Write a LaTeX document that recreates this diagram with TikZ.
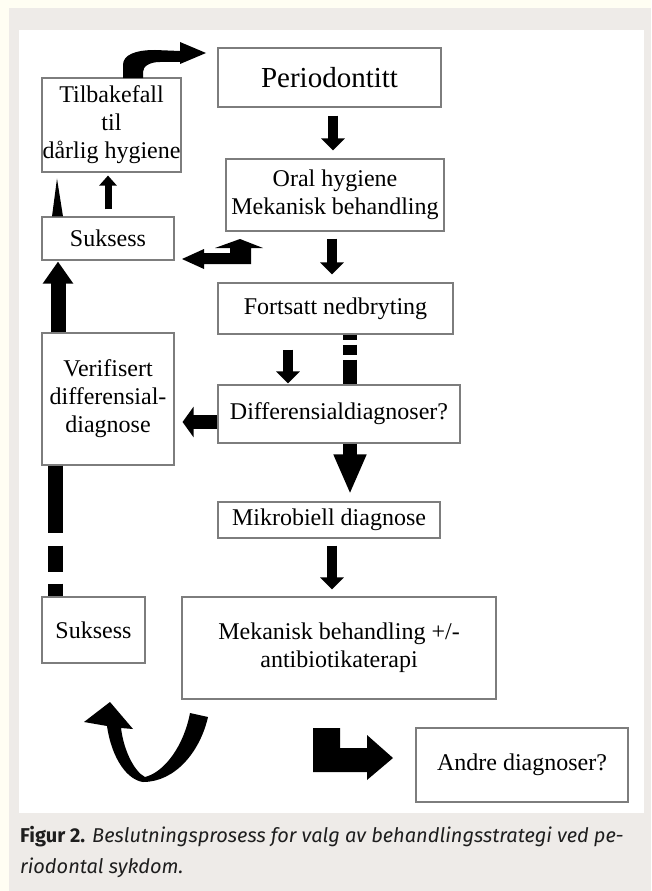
\documentclass[tikz,border=0pt]{standalone}
\usepackage{fontspec}
\setmainfont{Liberation Serif}
\newfontfamily\capfont{Fira Sans}
\usetikzlibrary{arrows.meta}
\definecolor{creamBg}{RGB}{255,254,243}
\definecolor{panelGray}{RGB}{238,235,232}
\definecolor{edgeGray}{RGB}{125,125,125}
\definecolor{capInk}{RGB}{30,30,30}

\begin{document}
\begin{tikzpicture}[x=1pt, y=-1pt,
  box/.style={draw=edgeGray, line width=1.1pt, fill=white, inner sep=0pt,
    align=center, font=\fontsize{24}{28}\selectfont},
  blk/.style={line width=10pt, -{Triangle[width=23pt,length=12pt]}},
  fatarrow/.style={line width=14pt, -{Triangle[width=30pt,length=#1]}},
  caption/.style={anchor=base west, inner sep=0pt, text=capInk, font=\capfont\fontsize{20}{28}\selectfont}]
  % background and panel
  \useasboundingbox (0,0) rectangle (651,891);
  \fill[creamBg] (0,0) rectangle (651,891);
  \fill[panelGray] (9,8) rectangle (651,891);
  \fill[white] (19,30) rectangle (644,813);

  % boxes
  \node[box, minimum width=223, minimum height=59, font=\fontsize{29}{34}\selectfont] (perio) at (329.5,77.5) {Periodontitt};
  \node[box, minimum width=218, minimum height=72] (oral) at (335,195) {Oral hygiene\\Mekanisk behandling};
  \node[box, minimum width=235, minimum height=51] (fort) at (335.5,308.5) {Fortsatt nedbryting};
  \node[box, minimum width=242, minimum height=58] (diff) at (339,414) {Differensialdiagnoser?};
  \node[box, minimum width=222, minimum height=36] (mikro) at (329,520) {Mikrobiell diagnose};
  \node[box, minimum width=314, minimum height=102] (mekab) at (339,648) {Mekanisk behandling +/-\\antibiotikaterapi};
  \node[box, minimum width=212, minimum height=74] (andre) at (522,765) {Andre diagnoser?};
  \node[box, minimum width=139, minimum height=94] (tilb) at (111.5,125) {Tilbakefall\\til\\dårlig hygiene};
  \node[box, minimum width=132, minimum height=43] (suk1) at (108,238.5) {Suksess};
  \node[box, minimum width=132, minimum height=132] (verif) at (108,399) {Verifisert\\differensial-\\diagnose};
  \node[box, minimum width=103, minimum height=66] (suk2) at (93.5,630) {Suksess};

  % straight arrows
  \draw[blk, shorten <=8pt, shorten >=8pt] ([xshift=3.5]perio.south) -- ([xshift=-2]oral.north);
  \draw[blk, shorten <=7pt, shorten >=8pt] ([xshift=-3]oral.south) -- ([xshift=-3.5]fort.north);
  \draw[blk, shorten <=15pt, shorten >=1pt] ([xshift=-47.5]fort.south) -- ([xshift=-51]diff.north);
  \draw[blk, shorten <=7pt, shorten >=7pt] ([xshift=3]mikro.south) -- ([xshift=-7]mekab.north);
  \draw[line width=14pt, dash pattern=on 5pt off 5pt on 10pt off 5pt on 40pt] ([xshift=14.5]fort.south) -- ([xshift=11]diff.north);
  \draw[fatarrow=40pt, shorten >=7pt] ([xshift=11]diff.south) -- ([xshift=21]mikro.north);
  \draw[fatarrow=11pt, shorten >=8pt] ([yshift=-8]diff.west) -- ([yshift=-23]verif.east);
  \draw[line width=15pt, dash pattern=on 67pt off 13pt on 26pt off 12pt on 20pt] ([xshift=-52.5]verif.south) -- ([xshift=-38]suk2.north);
  \draw[line width=15pt, -{Triangle[width=29pt,length=22pt]}, shorten >=1pt] ([xshift=-50]verif.north) -- ([xshift=-50]suk1.south);
  \draw[line width=7pt, -{Triangle[width=17pt,length=10pt]}, shorten <=7pt, shorten >=3pt] (suk1.north) -- ([xshift=-3.5]tilb.south);
  \fill ([xshift=-56]suk1.north) -- ([xshift=-54.5,yshift=-6]tilb.south) -- ([xshift=-45]suk1.north) -- cycle;

  % shaped arrows
  \fill (123,78) -- (123,65) .. controls (123,55) and (135,50) .. (155,50) -- (180,51) -- (180,42) -- (206,53)
    -- (180,64) -- (180,62) -- (160,62) .. controls (150,62) and (143,66) .. (143,72) -- (143,78) -- cycle;
  \fill (182,259) -- (204,249) -- (204,253) -- (230,253) -- (230,248) -- (215,248) -- (240,239) -- (263,248)
    -- (251,248) -- (251,264) -- (204,264) -- (204,269) -- cycle;
  \fill (84,722) -- (110,702) -- (133,729) -- (121,728) .. controls (124,752) and (135,772) .. (145,777)
    .. controls (165,772) and (184,745) .. (190,713) -- (208,717) .. controls (200,752) and (175,782) .. (143,782)
    .. controls (128,780) and (112,760) .. (107,726) -- cycle;
  \fill (313,728) -- (340,728) -- (340,748) -- (367,748) -- (367,735) -- (393,758) -- (367,780) -- (367,772)
    -- (313,772) -- cycle;

  % caption
  \node[caption] (cap1) at (20,842) {\textbf{Figur 2.} \textit{Beslutningsprosess for valg av behandlingsstrategi ved pe-}};
  \node[caption] (cap2) at (20,873) {\textit{riodontal sykdom.}};
\end{tikzpicture}
\end{document}
